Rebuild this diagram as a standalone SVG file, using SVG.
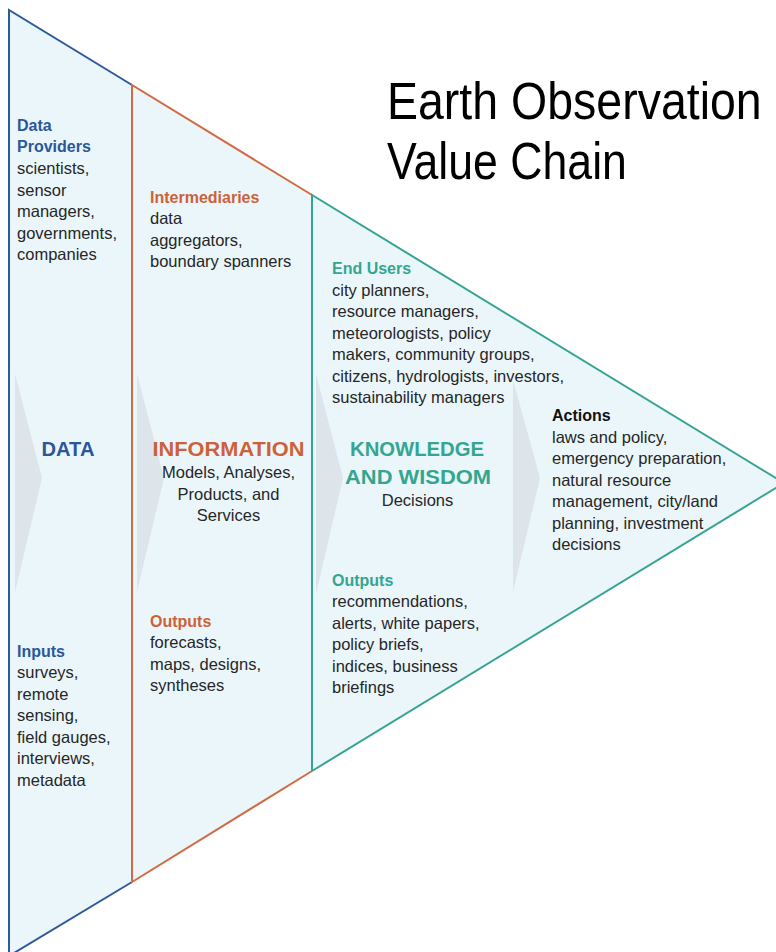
<svg xmlns="http://www.w3.org/2000/svg" width="776" height="952" viewBox="0 0 776 952">
<style>
text { font-family: "Liberation Sans", Arial, sans-serif; }
.body { font-size: 16.5px; fill: #262626; }
.hd { font-size: 16px; font-weight: bold; }
.big { font-size: 20px; font-weight: bold; }
.blue { fill: #2B579A; }
.orange { fill: #CC6239; }
.teal { fill: #34A690; }
.black { fill: #111111; }
.chev { fill: #DDE4EA; }
.edge { fill: none; stroke-width: 2; stroke-linejoin: miter; }
.title { font-size: 46.5px; fill: #000000; }
</style>
<rect width="776" height="952" fill="#FFFFFF"/>
<g id="background">
  <polygon points="9,10 784,483 9,956" fill="#EBF6FB"/>
  <polygon class="chev" points="15,374 42,478 15,592"/>
  <polygon class="chev" points="137,374 164,478 137,592"/>
  <polygon class="chev" points="316,374 343,478 316,594"/>
  <polygon class="chev" points="513,380 540,478 513,592"/>
</g>
<g id="connectors">
  <polyline class="edge" stroke="#2E5A9C" points="132,85 9,10 9,956 132,882"/>
  <polyline class="edge" stroke="#D26B45" points="312,195 132,85 132,882 312,771"/>
  <polyline class="edge" stroke="#35A592" points="312,771 312,195 784,483 312,771"/>
</g>
<g id="title">
  <text class="title" transform="translate(387,119) scale(1,1.12)" x="0" y="0">Earth Observation</text>
  <text class="title" transform="translate(387,179) scale(0.96,1.12)" x="0" y="0">Value Chain</text>
</g>
<g id="data">
  <text class="hd blue" x="17" y="130.5">Data</text>
  <text class="hd blue" x="17" y="152">Providers</text>
  <text class="body" x="17" y="174">scientists,</text>
  <text class="body" x="17" y="195.5">sensor</text>
  <text class="body" x="17" y="217">managers,</text>
  <text class="body" x="17" y="238.5">governments,</text>
  <text class="body" x="17" y="260">companies</text>
  <text class="big blue" x="68" y="456" text-anchor="middle" textLength="53" lengthAdjust="spacingAndGlyphs">DATA</text>
  <text class="hd blue" x="17" y="656.5">Inputs</text>
  <text class="body" x="17" y="678">surveys,</text>
  <text class="body" x="17" y="699.5">remote</text>
  <text class="body" x="17" y="721">sensing,</text>
  <text class="body" x="17" y="742.5">field gauges,</text>
  <text class="body" x="17" y="764">interviews,</text>
  <text class="body" x="17" y="785.5">metadata</text>
</g>
<g id="information">
  <text class="hd orange" x="150" y="202.5">Intermediaries</text>
  <text class="body" x="150" y="224">data</text>
  <text class="body" x="150" y="245.5">aggregators,</text>
  <text class="body" x="150" y="267">boundary spanners</text>
  <text class="big orange" x="152.5" y="456" textLength="152" lengthAdjust="spacingAndGlyphs">INFORMATION</text>
  <text class="body" x="228.5" y="478" text-anchor="middle">Models, Analyses,</text>
  <text class="body" x="228.5" y="499.5" text-anchor="middle">Products, and</text>
  <text class="body" x="228.5" y="521" text-anchor="middle">Services</text>
  <text class="hd orange" x="150" y="626.5">Outputs</text>
  <text class="body" x="150" y="648">forecasts,</text>
  <text class="body" x="150" y="669.5">maps, designs,</text>
  <text class="body" x="150" y="691">syntheses</text>
</g>
<g id="knowledge">
  <text class="hd teal" x="332" y="274">End Users</text>
  <text class="body" x="332" y="295.5">city planners,</text>
  <text class="body" x="332" y="317">resource managers,</text>
  <text class="body" x="332" y="338.5">meteorologists, policy</text>
  <text class="body" x="332" y="360">makers, community groups,</text>
  <text class="body" x="332" y="381.5">citizens, hydrologists, investors,</text>
  <text class="body" x="332" y="403">sustainability managers</text>
  <text class="big teal" x="350" y="456" textLength="134" lengthAdjust="spacingAndGlyphs">KNOWLEDGE</text>
  <text class="big teal" x="345" y="484" textLength="146" lengthAdjust="spacingAndGlyphs">AND WISDOM</text>
  <text class="body" x="417.5" y="505.5" text-anchor="middle">Decisions</text>
  <text class="hd teal" x="332" y="585.5">Outputs</text>
  <text class="body" x="332" y="607">recommendations,</text>
  <text class="body" x="332" y="628.5">alerts, white papers,</text>
  <text class="body" x="332" y="650">policy briefs,</text>
  <text class="body" x="332" y="671.5">indices, business</text>
  <text class="body" x="332" y="693">briefings</text>
</g>
<g id="actions">
  <text class="hd black" x="552" y="421">Actions</text>
  <text class="body" x="552" y="442.5">laws and policy,</text>
  <text class="body" x="552" y="464">emergency preparation,</text>
  <text class="body" x="552" y="485.5">natural resource</text>
  <text class="body" x="552" y="507">management, city/land</text>
  <text class="body" x="552" y="528.5">planning, investment</text>
  <text class="body" x="552" y="550">decisions</text>
</g>
</svg>
